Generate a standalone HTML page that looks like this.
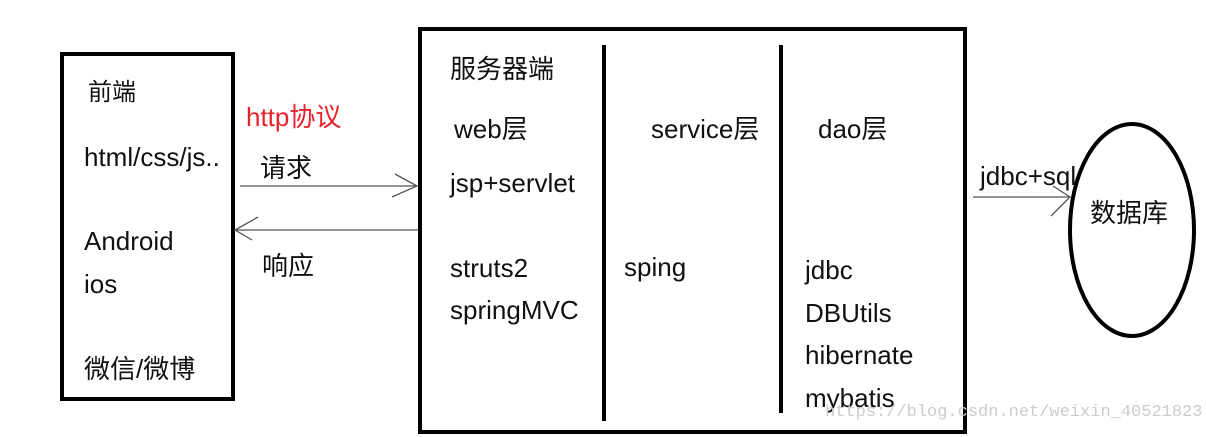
<!DOCTYPE html>
<html><head><meta charset="utf-8"><style>
body{margin:0;background:#fff;width:1206px;height:437px;overflow:hidden;position:relative;font-family:"Liberation Sans","Noto Sans CJK SC",sans-serif;color:#111}
.t{position:absolute;font-size:26px;line-height:1;white-space:nowrap}
</style></head><body>
<svg width="1206" height="437" style="position:absolute;left:0;top:0">
<rect x="62" y="54" width="171" height="345" fill="none" stroke="#000" stroke-width="4"/>
<rect x="420" y="29" width="545" height="403" fill="none" stroke="#000" stroke-width="4"/>
<line x1="604" y1="45" x2="604" y2="421" stroke="#000" stroke-width="4"/>
<line x1="781" y1="45" x2="781" y2="413" stroke="#000" stroke-width="4"/>
<ellipse cx="1132" cy="230" rx="62" ry="106" fill="none" stroke="#000" stroke-width="4"/>
<g stroke="#555" stroke-width="1.3" fill="none">
<line x1="240" y1="186" x2="417" y2="186"/>
<polyline points="395,174 417,186 392,197"/>
<line x1="234" y1="230" x2="418" y2="230"/>
<polyline points="258,217 235,230 252,240"/>
<line x1="973" y1="197" x2="1070" y2="197"/>
<polyline points="1053,186 1070,197 1051,216"/>
</g>
</svg>
<div class="t" style="left:88px;top:81px;font-size:24px">前端</div>
<div class="t" style="left:84px;top:144px">html/css/js..</div>
<div class="t" style="left:84px;top:228px">Android</div>
<div class="t" style="left:84px;top:271px">ios</div>
<div class="t" style="left:84px;top:356px">微信/微博</div>
<div class="t" style="left:246px;top:104px;color:#e8222a">http协议</div>
<div class="t" style="left:260px;top:155px">请求</div>
<div class="t" style="left:262px;top:253px">响应</div>
<div class="t" style="left:450px;top:56px">服务器端</div>
<div class="t" style="left:454px;top:116px">web层</div>
<div class="t" style="left:450px;top:170px">jsp+servlet</div>
<div class="t" style="left:450px;top:255px">struts2</div>
<div class="t" style="left:450px;top:297px">springMVC</div>
<div class="t" style="left:651px;top:116px">service层</div>
<div class="t" style="left:624px;top:254px">sping</div>
<div class="t" style="left:818px;top:116px">dao层</div>
<div class="t" style="left:805px;top:257px">jdbc</div>
<div class="t" style="left:805px;top:300px">DBUtils</div>
<div class="t" style="left:805px;top:342px">hibernate</div>
<div class="t" style="left:805px;top:385px">mybatis</div>
<div class="t" style="left:980px;top:163px">jdbc+sql</div>
<div class="t" style="left:1090px;top:200px">数据库</div>
<div class="t" style="left:825px;top:404px;font-size:17px;color:#ccc;font-family:'Liberation Mono',monospace">https://blog.csdn.net/weixin_40521823</div>
</body></html>
